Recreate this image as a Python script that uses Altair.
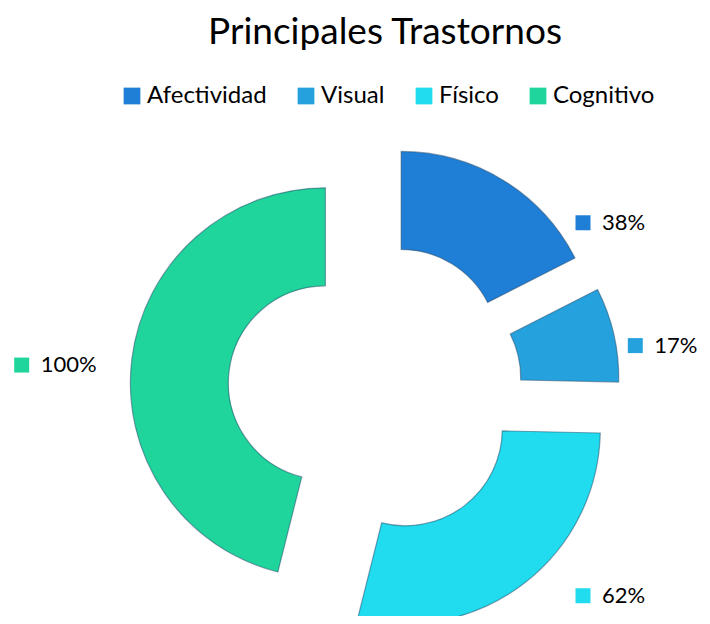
import altair as alt
import pandas as pd

categories = ["Afectividad", "Visual", "Físico", "Cognitivo"]
values = [38, 17, 62, 100]
colors = ["#1f7fd6", "#25a2dd", "#20dcee", "#1fd59b"]

df = pd.DataFrame({"cat": categories, "val": values})

CX, CY = 367, 381        # doughnut centre (plot px)
EXPLODE = 50             # explosion distance
R_OUT, R_IN = 195, 97

color = alt.Color(
    "cat:N",
    scale=alt.Scale(domain=categories, range=colors),
    sort=categories,
    legend=alt.Legend(
        title=None, orient="none", legendX=112, legendY=76, direction="horizontal",
        symbolType="square", symbolSize=280, symbolStrokeWidth=0, symbolOpacity=1,
        labelFont="Lato", labelFontSize=24, labelColor="#000", labelOffset=3,
        columnPadding=27, labelLimit=300,
    ),
)

base = (
    alt.Chart(df)
    .transform_window(idx="row_number()")
    .transform_joinaggregate(total="sum(val)")
    .transform_window(cum="sum(val)", sort=[alt.SortField("idx")], frame=[None, 0])
    .transform_calculate(
        start="2*PI*(datum.cum - datum.val)/datum.total",
        end="2*PI*datum.cum/datum.total",
    )
    .transform_calculate(mid="(datum.start + datum.end)/2")
    .transform_calculate(
        px=f"{CX} + {EXPLODE}*sin(datum.mid)",
        py=f"{CY} - {EXPLODE}*cos(datum.mid)",
        lx=f"sin(datum.mid) > 0 ? {CX} + max(267*sin(datum.mid), 208) : {CX} + 356*sin(datum.mid)",
        ly=f"cos(datum.mid) < 0 ? {CY} - 260*cos(datum.mid) : {CY} - 195*cos(datum.mid)",
        lab="datum.val + '%'",
    )
)

arcs = base.mark_arc(outerRadius=R_OUT, innerRadius=R_IN, stroke="#23496b",
                     strokeWidth=1.2, strokeOpacity=0.5).encode(
    x=alt.X("px:Q", scale=None, axis=None),
    y=alt.Y("py:Q", scale=None, axis=None),
    theta=alt.Theta("start:Q", scale=None),
    theta2="end:Q",
    color=color,
    tooltip=["cat:N", "val:Q"],
)

syms = base.mark_point(shape="square", filled=True, size=225, opacity=1).encode(
    x=alt.X("lx:Q", scale=None, axis=None),
    y=alt.Y("ly:Q", scale=None, axis=None),
    color=alt.Color("cat:N", scale=alt.Scale(domain=categories, range=colors), legend=None),
)

texts = base.mark_text(align="left", baseline="middle", dx=19, font="Lato",
                       fontSize=22, color="#000").encode(
    x=alt.X("lx:Q", scale=None, axis=None),
    y=alt.Y("ly:Q", scale=None, axis=None),
    text="lab:N",
)

chart = (
    alt.layer(arcs, syms, texts)
    .properties(
        width=694, height=608,
        autosize=alt.AutoSizeParams(type="none"),
        padding=0,
        title=alt.TitleParams(
            "Principales Trastornos", font="Lato", fontSize=37, fontWeight="normal",
            color="#000", anchor="middle", dx=30, dy=44, offset=0,
        ),
    )
    .configure_view(stroke=None)
)

chart.save("out.html", embed_options={"renderer": "svg", "actions": False})
